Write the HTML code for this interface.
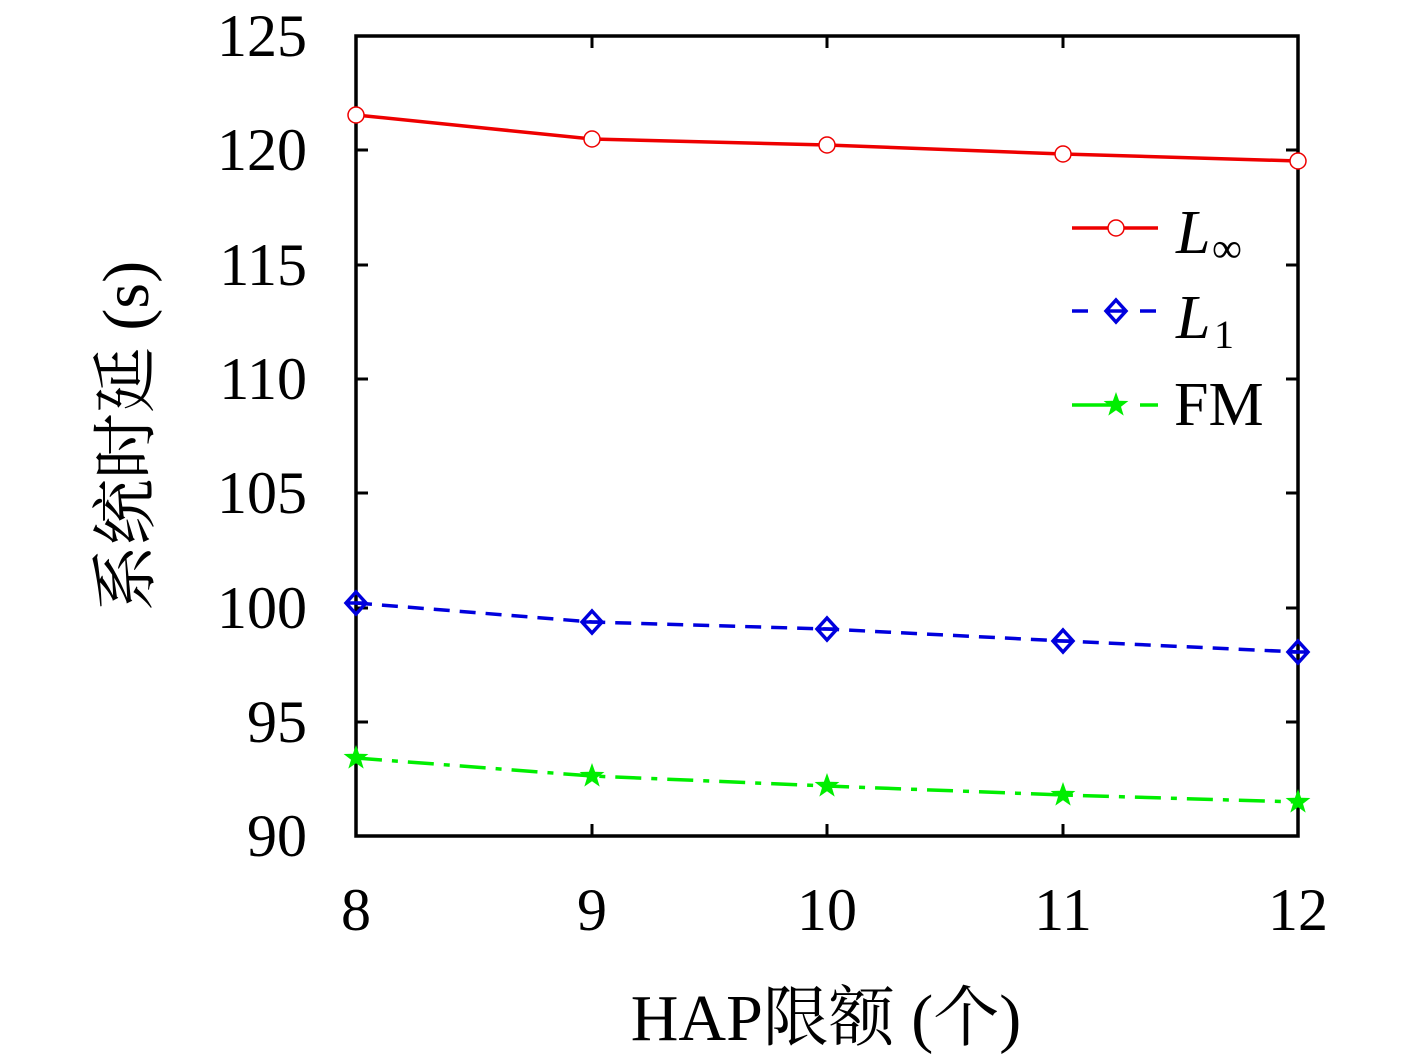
<!DOCTYPE html>
<html><head><meta charset="utf-8"><style>
html,body{margin:0;padding:0;background:#fff;}
svg{display:block;}
text{font-family:"Liberation Serif","Noto Serif CJK SC",serif;fill:#000;}
</style></head><body>
<svg width="1417" height="1058" viewBox="0 0 1417 1058" xmlns="http://www.w3.org/2000/svg">
<defs>
<path id="star" d="M0,-13 L3.1,-4.3 L12.4,-4 L5,1.7 L7.7,10.6 L0,5.3 L-7.7,10.6 L-5,1.7 L-12.4,-4 L-3.1,-4.3Z" fill="#00ee00"/>
</defs>
<g stroke="#000" stroke-width="3">
<line x1="356" y1="150" x2="368" y2="150"/><line x1="356" y1="265" x2="368" y2="265"/>
<line x1="356" y1="379" x2="368" y2="379"/><line x1="356" y1="493" x2="368" y2="493"/>
<line x1="356" y1="608" x2="368" y2="608"/><line x1="356" y1="722" x2="368" y2="722"/>
<line x1="1298" y1="150" x2="1286" y2="150"/><line x1="1298" y1="265" x2="1286" y2="265"/>
<line x1="1298" y1="379" x2="1286" y2="379"/><line x1="1298" y1="493" x2="1286" y2="493"/>
<line x1="1298" y1="608" x2="1286" y2="608"/><line x1="1298" y1="722" x2="1286" y2="722"/>
<line x1="592" y1="836" x2="592" y2="824"/><line x1="827" y1="836" x2="827" y2="824"/>
<line x1="1063" y1="836" x2="1063" y2="824"/>
<line x1="592" y1="36" x2="592" y2="48"/><line x1="827" y1="36" x2="827" y2="48"/>
<line x1="1063" y1="36" x2="1063" y2="48"/>
</g>
<rect x="356" y="36" width="942" height="800" fill="none" stroke="#000" stroke-width="3.5"/>
<polyline points="356,115 592,139 827,145 1063,154 1298,161" fill="none" stroke="#ee0000" stroke-width="3.5"/>
<g fill="#fff" stroke="#ee0000" stroke-width="1.5">
<circle cx="356" cy="115" r="8"/><circle cx="592" cy="139" r="8"/><circle cx="827" cy="145" r="8"/><circle cx="1063" cy="154" r="8"/><circle cx="1298" cy="161" r="8"/>
</g>
<polyline points="356,603 592,622 827,629 1063,641 1298,652" fill="none" stroke="#0000dd" stroke-width="3.5" stroke-dasharray="16,10"/>
<g fill="none" stroke="#0000dd" stroke-width="3.5">
<path d="M356,592 L366,603 L356,614 L346,603Z M346,603 H366"/>
<path d="M592,611 L602,622 L592,633 L582,622Z M582,622 H602"/>
<path d="M827,618 L837,629 L827,640 L817,629Z M817,629 H837"/>
<path d="M1063,630 L1073,641 L1063,652 L1053,641Z M1053,641 H1073"/>
<path d="M1298,641 L1308,652 L1298,663 L1288,652Z M1288,652 H1308"/>
</g>
<polyline points="356,758 592,776 827,786 1063,795 1298,802" fill="none" stroke="#00ee00" stroke-width="3.5" stroke-dasharray="26,10,6,10"/>
<use href="#star" x="356" y="758"/><use href="#star" x="592" y="776"/><use href="#star" x="827" y="786"/><use href="#star" x="1063" y="795"/><use href="#star" x="1298" y="802"/>
<line x1="1072" y1="228" x2="1158" y2="228" stroke="#ee0000" stroke-width="3.5"/>
<circle cx="1116" cy="228" r="8" fill="#fff" stroke="#ee0000" stroke-width="1.5"/>
<g stroke="#0000dd" stroke-width="3.5"><line x1="1072" y1="311" x2="1088" y2="311"/><line x1="1140" y1="311" x2="1156" y2="311"/></g>
<path d="M1116,300 L1126,311 L1116,322 L1106,311Z M1106,311 H1126" fill="none" stroke="#0000dd" stroke-width="3.5"/>
<g stroke="#00ee00" stroke-width="3.5"><line x1="1072" y1="405" x2="1112" y2="405"/><line x1="1140" y1="405" x2="1158" y2="405"/></g>
<use href="#star" x="1116" y="405"/>
<text x="1176" y="253" font-size="62" font-style="italic">L</text><text x="1212" y="262" font-size="42">∞</text>
<text x="1176" y="338" font-size="62" font-style="italic">L</text><text x="1214" y="348" font-size="40">1</text>
<text x="1174" y="425" font-size="62">FM</text>
<g font-size="60" text-anchor="end">
<text x="307" y="56">125</text><text x="307" y="170">120</text><text x="307" y="285">115</text>
<text x="307" y="399">110</text><text x="307" y="513">105</text><text x="307" y="628">100</text>
<text x="307" y="742">95</text><text x="307" y="856">90</text>
</g>
<g font-size="60" text-anchor="middle">
<text x="356" y="930">8</text><text x="592" y="930">9</text><text x="827" y="930">10</text>
<text x="1063" y="930">11</text><text x="1298" y="930">12</text>
</g>
<text x="826" y="1040" font-size="66" text-anchor="middle">HAP限额 (个)</text>
<text transform="translate(148,436) rotate(-90)" font-size="66" text-anchor="middle">系统时延 (s)</text>
</svg>
</body></html>
